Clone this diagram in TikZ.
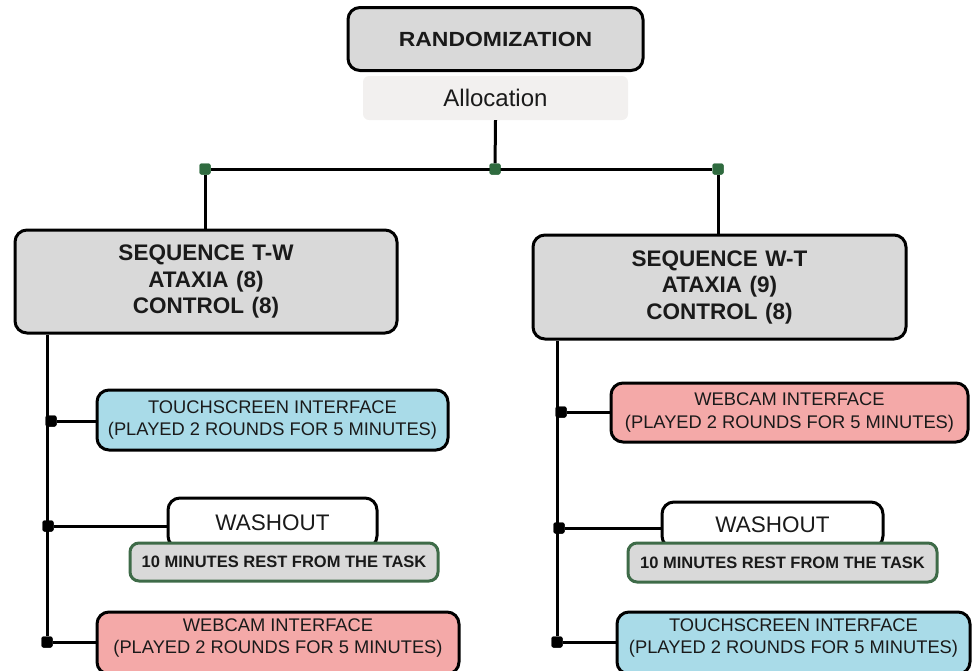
\documentclass[tikz,border=0pt]{standalone}
\usepackage{fontspec}
\usepackage{graphicx}
\setmainfont{Liberation Sans}
\definecolor{boxgray}{HTML}{D9D9D9}
\definecolor{allocbg}{HTML}{F2F0EF}
\definecolor{tblue}{HTML}{A9DBE8}
\definecolor{wpink}{HTML}{F4A9A8}
\definecolor{jgreen}{HTML}{2F6B3F}
\definecolor{rgreen}{HTML}{3E6B48}
\definecolor{txt}{HTML}{1A1A1A}
\newcommand{\fsz}[1]{\fontsize{#1}{#1}\selectfont}
\begin{document}
\begin{tikzpicture}[x=1pt,y=-1pt,
  base/.style={draw=black, line width=3pt, rounded corners=12pt, inner sep=0pt, align=center, text=txt},
  graybox/.style={base, fill=boxgray},
  bluebox/.style={base, fill=tblue},
  pinkbox/.style={base, fill=wpink},
  washbox/.style={base, fill=white},
  restbox/.style={base, draw=rgreen, fill=boxgray, rounded corners=9pt},
  gjunc/.style={fill=jgreen, draw=none, minimum size=11pt, inner sep=0pt, rounded corners=2pt},
  bjunc/.style={fill=black, draw=none, minimum size=11pt, inner sep=0pt, rounded corners=2pt},
  conn/.style={draw=black, line width=3pt},
  itxt/.style={font=\fsz{18.3}, align=center, text=txt, inner sep=0pt},
]
\useasboundingbox (0,0) rectangle (972,670);
\clip (0,0) rectangle (972,670);

% top
\node[graybox, minimum width=295pt, minimum height=63pt, font=\bfseries\fsz{20.5}] (rand) at (495.5,39) {\scalebox{1.12}[1]{RANDOMIZATION}};
\node[fill=allocbg, rounded corners=6pt, minimum width=265pt, minimum height=44pt, inner sep=0pt, font=\fsz{24}, text=txt] (alloc) at (495.5,98) {Allocation};

\node[gjunc] (jc) at (495,169) {};
\node[gjunc] (jl) at (205,169) {};
\node[gjunc] (jr) at (718,169) {};

\node[graybox, minimum width=382pt, minimum height=103pt, font=\bfseries\fsz{22.5}, text width=370pt] (seq1) at (206,281.5)
  {SEQUENCE T-W\\[4pt]ATAXIA (8)\\[4pt]CONTROL (8)};
\node[graybox, minimum width=373pt, minimum height=104pt, font=\bfseries\fsz{22.5}, text width=360pt] (seq2) at (719.5,287)
  {SEQUENCE W-T\\[4pt]ATAXIA (9)\\[4pt]CONTROL (8)};

\draw[conn] (alloc.south) -- (jc);
\draw[conn] (jl) -- (jr);
\draw[conn] (jl) -- (jl |- seq1.north);
\draw[conn] (jr) -- (jr |- seq2.north);
\node[gjunc] at (jc) {};
\node[gjunc] at (jl) {};
\node[gjunc] at (jr) {};

% left column
\node[bjunc] (bl1) at (51,421) {};
\node[bjunc] (bl2) at (48,526) {};
\node[bjunc] (bl3) at (47,642) {};

\node[bluebox, minimum width=351pt, minimum height=60pt, font=\fsz{18.3}] (t1) at (272.5,420)
  {TOUCHSCREEN INTERFACE\\[4pt](PLAYED 2 ROUNDS FOR 5 MINUTES)};
\node[washbox, minimum width=209pt, minimum height=50pt, font=\fsz{22.5}] (wash1) at (272.5,523) {WASHOUT};
\node[restbox, minimum width=308pt, minimum height=38pt, font=\bfseries\fsz{16.5}] (rest1) at (284,562) {10 MINUTES REST FROM THE TASK};
\node[pinkbox, minimum width=362pt, minimum height=62pt] (w1) at (278,643) {};
\node[itxt] (w1t) at ([yshift=5pt]w1.center) {WEBCAM INTERFACE\\[4pt](PLAYED 2 ROUNDS FOR 5 MINUTES)};

\draw[conn] (bl3 |- seq1.south) -- (bl3);
\draw[conn] (bl1) -- (bl1 -| t1.west);
\draw[conn] (bl2) -- (bl2 -| wash1.west);
\draw[conn] (bl3) -- (bl3 -| w1.west);
\node[bjunc] at (bl1) {};
\node[bjunc] at (bl2) {};
\node[bjunc] at (bl3) {};

% right column
\node[bjunc] (br1) at (561,412) {};
\node[bjunc] (br2) at (559,528) {};
\node[bjunc] (br3) at (557,642) {};

\node[pinkbox, minimum width=357pt, minimum height=59pt, font=\fsz{18.3}] (w2) at (789.5,412.5)
  {WEBCAM INTERFACE\\[4pt](PLAYED 2 ROUNDS FOR 5 MINUTES)};
\node[washbox, minimum width=221pt, minimum height=46pt, font=\fsz{22.5}] (wash2) at (772.5,525) {WASHOUT};
\node[restbox, minimum width=309pt, minimum height=39pt, font=\bfseries\fsz{16.5}] (rest2) at (782.5,562.5) {10 MINUTES REST FROM THE TASK};
\node[bluebox, minimum width=353pt, minimum height=62pt] (t2) at (793.5,643) {};
\node[itxt] (t2t) at ([yshift=5pt]t2.center) {TOUCHSCREEN INTERFACE\\[4pt](PLAYED 2 ROUNDS FOR 5 MINUTES)};

\draw[conn] (br3 |- seq2.south) -- (br3);
\draw[conn] (br1) -- (br1 -| w2.west);
\draw[conn] (br2) -- (br2 -| wash2.west);
\draw[conn] (br3) -- (br3 -| t2.west);
\node[bjunc] at (br1) {};
\node[bjunc] at (br2) {};
\node[bjunc] at (br3) {};
\end{tikzpicture}
\end{document}
